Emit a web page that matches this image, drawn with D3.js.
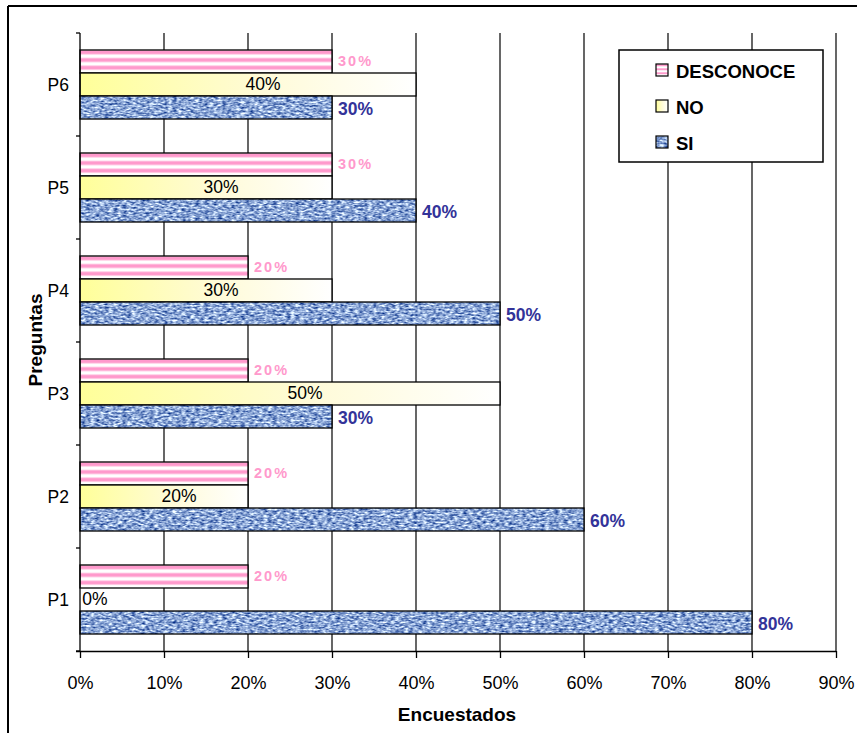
<!DOCTYPE html>
<html>
<head>
<meta charset="utf-8">
<script src="https://cdn.jsdelivr.net/npm/d3@7"></script>
<style>
  html, body { margin: 0; padding: 0; background: #ffffff; }
  svg { display: block; }
  text { font-family: "Liberation Sans", Arial, sans-serif; }
</style>
</head>
<body>
<script>
// Survey answers per question (share of respondents)
const categories = ["P1", "P2", "P3", "P4", "P5", "P6"];
const seriesNames = ["DESCONOCE", "NO", "SI"];
const desconoceValues = [0.2, 0.2, 0.2, 0.2, 0.3, 0.3];
const noValues = [0.0, 0.2, 0.5, 0.3, 0.3, 0.4];
const siValues = [0.8, 0.6, 0.3, 0.5, 0.4, 0.3];
const xTickValues = [0, 0.1, 0.2, 0.3, 0.4, 0.5, 0.6, 0.7, 0.8, 0.9];
const xTitle = "Encuestados";
const yTitle = "Preguntas";

const valuesBySeries = { DESCONOCE: desconoceValues, NO: noValues, SI: siValues };

const W = 857, H = 733;
const plot = { left: 80, right: 836, top: 33, bottom: 651 };

const svg = d3.select("body").append("svg").attr("width", W).attr("height", H);
const defs = svg.append("defs");

// Yellow fading fill for the NO bars
const grad = defs.append("linearGradient").attr("id", "noFill")
  .attr("x1", 0).attr("x2", 1).attr("y1", 0).attr("y2", 0);
grad.append("stop").attr("offset", 0).attr("stop-color", "#ffff99");
grad.append("stop").attr("offset", 0.55).attr("stop-color", "#fffbd8");
grad.append("stop").attr("offset", 1).attr("stop-color", "#ffffff");

// Pink horizontal stripes for DESCONOCE
const stripes = defs.append("pattern").attr("id", "desFill")
  .attr("patternUnits", "objectBoundingBox").attr("patternContentUnits", "objectBoundingBox")
  .attr("width", 1).attr("height", 1 / 3);
stripes.append("rect").attr("width", 1).attr("height", 1 / 3).attr("fill", "#ffffff");
stripes.append("rect").attr("y", 0.0).attr("width", 1).attr("height", 0.035).attr("fill", "#ffc4e1");
stripes.append("rect").attr("y", 0.035).attr("width", 1).attr("height", 0.13).attr("fill", "#ff99cc");
stripes.append("rect").attr("y", 0.165).attr("width", 1).attr("height", 0.035).attr("fill", "#ffc4e1");

// Woven blue texture for SI
const denim = defs.append("filter").attr("id", "denim")
  .attr("x", 0).attr("y", 0).attr("width", 1).attr("height", 1)
  .attr("color-interpolation-filters", "sRGB");
denim.append("feTurbulence").attr("type", "fractalNoise")
  .attr("baseFrequency", "0.22 0.55").attr("numOctaves", 2).attr("seed", 3).attr("result", "noise");
denim.append("feColorMatrix").attr("in", "noise").attr("type", "matrix")
  .attr("values", "1.45 0 0 0 -0.18  1.3 0 0 0 0.0  0.85 0 0 0 0.41  0 0 0 0 1")
  .attr("result", "tint");
denim.append("feComposite").attr("in", "tint").attr("in2", "SourceGraphic").attr("operator", "in");

const fills = { DESCONOCE: "url(#desFill)", NO: "url(#noFill)" };

// Scales
const x = d3.scaleLinear().domain([0, 0.9]).range([plot.left, plot.right]);
const y = d3.scaleBand().domain(categories.slice().reverse())
  .range([plot.top, plot.bottom]).paddingInner(0.33).paddingOuter(0.165);
const ySub = d3.scaleBand().domain(seriesNames).range([0, y.bandwidth()]);

// Outer frame
svg.append("line").attr("x1", 8).attr("x2", W).attr("y1", 6).attr("y2", 6)
  .attr("stroke", "#000").attr("stroke-width", 2);
svg.append("line").attr("x1", 8).attr("x2", 8).attr("y1", 6).attr("y2", H)
  .attr("stroke", "#000").attr("stroke-width", 2);

// Vertical gridlines
svg.append("g").selectAll("line").data(xTickValues.slice(1)).join("line")
  .attr("x1", d => x(d)).attr("x2", d => x(d))
  .attr("y1", plot.top).attr("y2", plot.bottom)
  .attr("stroke", "#000").attr("stroke-width", 1.2);

// Bars
const barData = [];
categories.forEach((c, i) => seriesNames.forEach(s => {
  barData.push({ cat: c, series: s, value: valuesBySeries[s][i] });
}));

const bars = svg.append("g");
const bh = ySub.bandwidth();
barData.forEach(d => {
  const by = y(d.cat) + ySub(d.series);
  const bw = x(d.value) - x(0);
  if (bw <= 0) return;
  if (d.series === "SI") {
    bars.append("rect").attr("x", x(0)).attr("y", by).attr("width", bw).attr("height", bh)
      .attr("fill", "#7d9bd6").attr("filter", "url(#denim)");
  } else {
    bars.append("rect").attr("x", x(0)).attr("y", by).attr("width", bw).attr("height", bh)
      .attr("fill", fills[d.series]);
  }
  bars.append("rect").attr("x", x(0)).attr("y", by).attr("width", bw).attr("height", bh)
    .attr("fill", "none").attr("stroke", "#000").attr("stroke-width", 1.3);
});

// Value labels
const pct = d3.format(".0%");
const labels = svg.append("g");
barData.forEach(d => {
  const cy = y(d.cat) + ySub(d.series) + bh / 2;
  if (d.series === "DESCONOCE") {
    labels.append("text").attr("x", x(d.value) + 6).attr("y", cy)
      .attr("dominant-baseline", "central").attr("font-size", 14.5).attr("font-weight", "bold")
      .attr("letter-spacing", 2).attr("fill", "#ff99cc").text(pct(d.value));
  } else if (d.series === "SI") {
    labels.append("text").attr("x", x(d.value) + 6).attr("y", cy + 1)
      .attr("dominant-baseline", "central").attr("font-size", 17.5).attr("font-weight", "bold")
      .attr("fill", "#333399").text(pct(d.value));
  } else {
    labels.append("text").attr("x", x(d.value / 2) + 15).attr("y", cy - 1)
      .attr("dominant-baseline", "central").attr("text-anchor", "middle")
      .attr("font-size", 17.5).attr("fill", "#000").text(pct(d.value));
  }
});

// X axis
const xAxis = d3.axisBottom(x).tickValues(xTickValues).tickFormat(pct)
  .tickSize(7).tickSizeOuter(0).tickPadding(18);
const gx = svg.append("g").attr("transform", `translate(0,${plot.bottom})`).call(xAxis);
gx.select(".domain").attr("stroke", "#000").attr("stroke-width", 1.3)
  .attr("d", `M${plot.left - 4},0.5H${plot.right}`);
gx.selectAll(".tick line").attr("stroke", "#000").attr("stroke-width", 1.3);
gx.selectAll(".tick text").attr("font-size", 18).attr("fill", "#000")
  .attr("font-family", "'Liberation Sans', Arial, sans-serif");

// Y axis: line, boundary ticks, category labels
svg.append("line").attr("x1", plot.left).attr("x2", plot.left)
  .attr("y1", plot.top).attr("y2", plot.bottom).attr("stroke", "#000").attr("stroke-width", 1.3);
const boundaries = categories.map(c => y(c) - y.step() * y.paddingOuter())
  .concat([plot.bottom]);
svg.append("g").selectAll("line").data(boundaries).join("line")
  .attr("x1", plot.left - 4).attr("x2", plot.left)
  .attr("y1", d => d).attr("y2", d => d).attr("stroke", "#000").attr("stroke-width", 1.3);
svg.append("g").selectAll("text").data(categories).join("text")
  .attr("x", plot.left - 11).attr("y", d => y(d) + y.bandwidth() / 2)
  .attr("text-anchor", "end").attr("dominant-baseline", "central")
  .attr("font-size", 17.5).text(d => d);

// Axis titles
svg.append("text").attr("x", (plot.left + plot.right) / 2 - 1).attr("y", 714)
  .attr("text-anchor", "middle").attr("dominant-baseline", "central")
  .attr("font-size", 19).attr("font-weight", "bold").text(xTitle);
svg.append("text").attr("transform", `translate(35,340) rotate(-90)`)
  .attr("text-anchor", "middle").attr("dominant-baseline", "central")
  .attr("font-size", 19).attr("font-weight", "bold").text(yTitle);

// Legend
const lg = svg.append("g").attr("transform", "translate(619,50)");
lg.append("rect").attr("width", 204).attr("height", 112)
  .attr("fill", "#fff").attr("stroke", "#000").attr("stroke-width", 1.5);
const legendRows = [
  { name: "DESCONOCE", cy: 20 },
  { name: "NO", cy: 56 },
  { name: "SI", cy: 92 }
];
legendRows.forEach(r => {
  if (r.name === "SI") {
    lg.append("rect").attr("x", 37).attr("y", r.cy - 6).attr("width", 12).attr("height", 12)
      .attr("fill", "#7d9bd6").attr("filter", "url(#denim)");
  } else {
    lg.append("rect").attr("x", 37).attr("y", r.cy - 6).attr("width", 12).attr("height", 12)
      .attr("fill", fills[r.name]);
  }
  lg.append("rect").attr("x", 37).attr("y", r.cy - 6).attr("width", 12).attr("height", 12)
    .attr("fill", "none").attr("stroke", "#000").attr("stroke-width", 1.2);
  lg.append("text").attr("x", 57).attr("y", r.cy + 1).attr("dominant-baseline", "central")
    .attr("font-size", 18.5).attr("font-weight", "bold").text(r.name);
});
</script>
</body>
</html>
